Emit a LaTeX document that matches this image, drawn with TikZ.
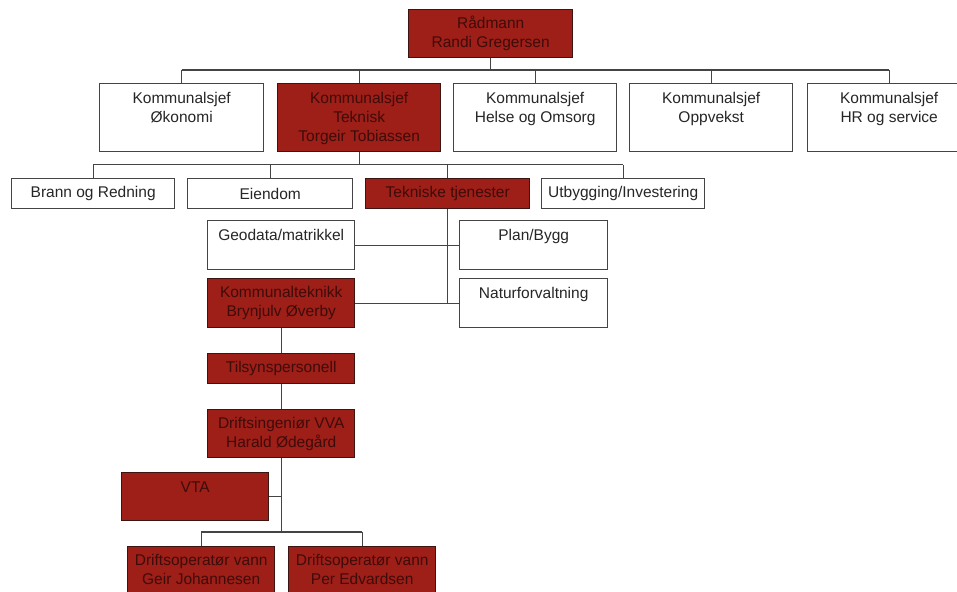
\documentclass[tikz,border=0pt]{standalone}
\usepackage{fontspec}
\setmainfont{Liberation Sans}
\definecolor{redf}{RGB}{158,30,24}
\definecolor{redt}{RGB}{62,12,10}
\definecolor{linec}{RGB}{68,68,68}
\definecolor{rline}{RGB}{60,20,18}
\newcommand{\bxt}[5]{\parbox[c][#2][#3]{#1}{\vspace*{#4}\centering #5\par}}
\begin{document}
\begin{tikzpicture}[x=1pt,y=-1pt,
  every node/.style={font=\fontsize{15.5}{19}\selectfont},
  wbox/.style={draw=linec, line width=1.4pt, fill=white, inner sep=0pt, anchor=north west, text=black!85},
  rbox/.style={wbox, draw=rline, fill=redf, text=redt},
  conn/.style={draw=linec, line width=1.4pt}]
\useasboundingbox (0,0) rectangle (957,591);
% level 0
\node[rbox] (radmann) at (408,9) {\bxt{164pt}{48pt}{c}{0pt}{Rådmann\\Randi Gregersen}};
% level 1
\node[wbox] (okonomi) at (99,83) {\bxt{164pt}{68pt}{t}{9pt}{Kommunalsjef\\Økonomi}};
\node[rbox] (teknisk) at (277,83) {\bxt{163pt}{68pt}{t}{9pt}{Kommunalsjef\\Teknisk\\Torgeir Tobiassen}};
\node[wbox] (helse) at (453,83) {\bxt{163pt}{68pt}{t}{9pt}{Kommunalsjef\\Helse og Omsorg}};
\node[wbox] (oppvekst) at (629,83) {\bxt{163pt}{68pt}{t}{9pt}{Kommunalsjef\\Oppvekst}};
\node[wbox] (hr) at (807,83) {\bxt{163pt}{68pt}{t}{9pt}{Kommunalsjef\\HR og service}};
% level 2
\node[wbox] (brann) at (11,178) {\bxt{163pt}{30pt}{c}{0pt}{Brann og Redning}};
\node[wbox] (eiendom) at (187,178) {\bxt{165pt}{30pt}{c}{0pt}{Eiendom}};
\node[rbox] (tekniske) at (365,178) {\bxt{164pt}{30pt}{c}{0pt}{Tekniske tjenester}};
\node[wbox] (utbygging) at (541,178) {\bxt{163pt}{30pt}{c}{0pt}{Utbygging/Investering}};
% level 3
\node[wbox] (geodata) at (207,220) {\bxt{147pt}{49pt}{t}{9pt}{Geodata/matrikkel}};
\node[wbox] (plan) at (459,220) {\bxt{148pt}{49pt}{t}{9pt}{Plan/Bygg}};
\node[rbox] (kommunal) at (207,278) {\bxt{147pt}{49pt}{c}{0pt}{Kommunalteknikk\\Brynjulv Øverby}};
\node[wbox] (natur) at (459,278) {\bxt{148pt}{49pt}{t}{9pt}{Naturforvaltning}};
% lower chain
\node[rbox] (tilsyn) at (207,353) {\bxt{147pt}{30pt}{c}{0pt}{Tilsynspersonell}};
\node[rbox] (drift) at (207,409) {\bxt{147pt}{48pt}{c}{0pt}{Driftsingeniør VVA\\Harald Ødegård}};
\node[rbox] (vta) at (121,472) {\bxt{147pt}{48pt}{t}{9pt}{VTA}};
\node[rbox] (op1) at (127,546) {\bxt{147pt}{50pt}{t}{8pt}{Driftsoperatør vann\\Geir Johannesen}};
\node[rbox] (op2) at (288,546) {\bxt{147pt}{50pt}{t}{8pt}{Driftsoperatør vann\\Per Edvardsen}};
% buses
\coordinate (bus1) at (0,70);
\coordinate (bus2) at (0,164.5);
\coordinate (bus3) at (0,532);
% connectors level 0 -> 1
\draw[conn] (radmann.south) -- (radmann.south |- bus1);
\draw[conn] (okonomi.north |- bus1) -- (hr.north |- bus1);
\foreach \n in {okonomi,teknisk,helse,oppvekst,hr}
  \draw[conn] (\n.north) -- (\n.north |- bus1);
% teknisk -> level 2
\draw[conn] (teknisk.south) -- (teknisk.south |- bus2);
\draw[conn] (brann.north |- bus2) -- (utbygging.north |- bus2);
\foreach \n in {brann,eiendom,tekniske,utbygging}
  \draw[conn] (\n.north) -- (\n.north |- bus2);
% tekniske tjenester -> level 3
\draw[conn] (tekniske.south) -- (tekniske.south |- kommunal.east);
\draw[conn] (geodata.east) -- (plan.west);
\draw[conn] (kommunal.east) -- (natur.west);
% chain
\draw[conn] (kommunal.south) -- (tilsyn.north);
\draw[conn] (tilsyn.south) -- (drift.north);
\draw[conn] (drift.south) -- (drift.south |- bus3);
\draw[conn] (vta.east) -- (drift.south |- vta.east);
\draw[conn] (op1.north |- bus3) -- (op2.north |- bus3);
\draw[conn] (op1.north) -- (op1.north |- bus3);
\draw[conn] (op2.north) -- (op2.north |- bus3);
\end{tikzpicture}
\end{document}
